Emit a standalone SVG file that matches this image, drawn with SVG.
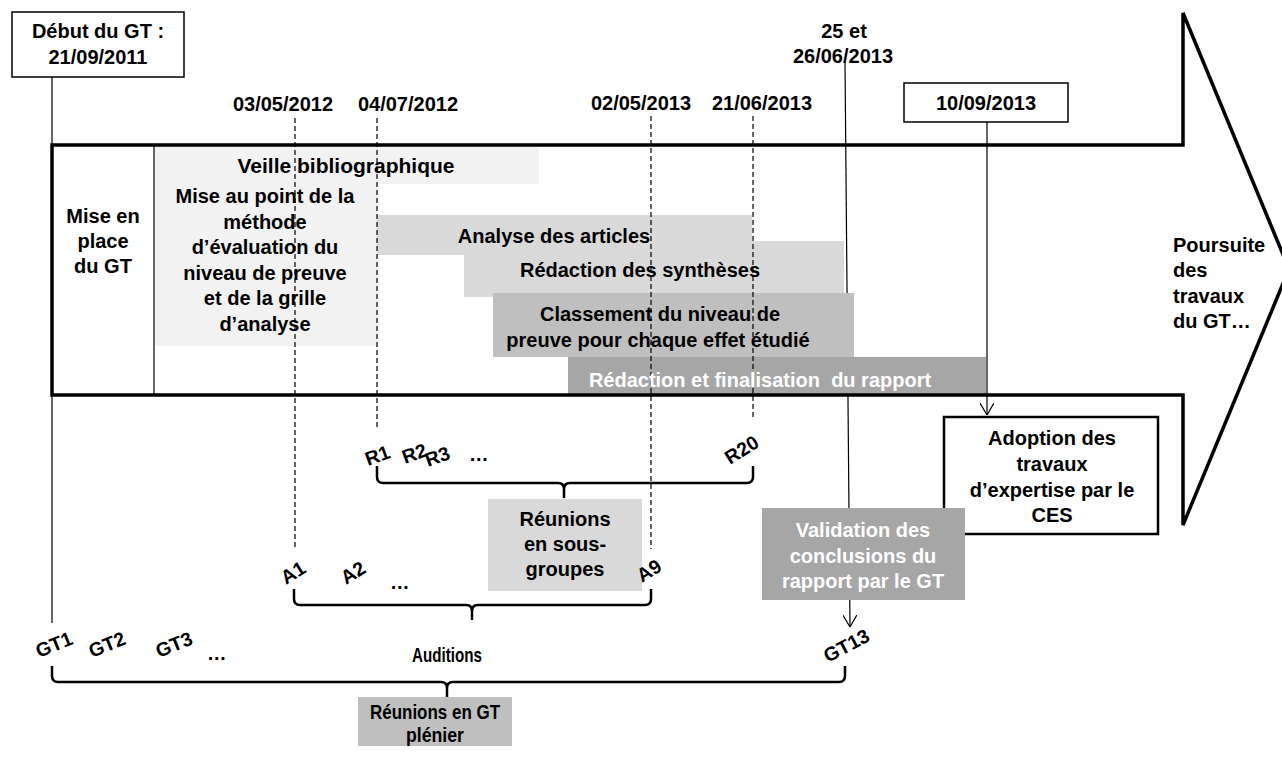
<svg xmlns="http://www.w3.org/2000/svg" width="1282" height="758" viewBox="0 0 1282 758">
<defs>
<style>
text{font-family:"Liberation Sans",Arial,sans-serif;font-weight:bold;font-size:20px;fill:#000}
.c{text-anchor:middle}
.w{fill:#fff}
.lbl{font-size:19.5px}
.big{font-size:21px}
.thin{stroke:#000;stroke-width:1.2;fill:none}
.dash{stroke:#000;stroke-width:1.2;stroke-dasharray:5 3;fill:none}
.brace{stroke:#000;stroke-width:2.5;fill:none}
.box{fill:#fff;stroke:#000;stroke-width:1.5}
.g1{fill:#f2f2f2}.g2{fill:#d9d9d9}.g3{fill:#bfbfbf}.g4{fill:#a6a6a6}
</style>
<marker id="ah" viewBox="0 0 12 14" refX="12" refY="7" markerWidth="12" markerHeight="14" markerUnits="userSpaceOnUse" orient="auto"><path d="M0,0 L12,7 L0,14" fill="none" stroke="#000" stroke-width="1.2"/></marker>
</defs>
<rect width="1282" height="758" fill="#fff"/>

<g id="connectors">
<line class="thin" x1="52" y1="77" x2="52" y2="623"/>
<line class="thin" x1="845" y1="62" x2="850" y2="627" marker-end="url(#ah)"/>
<line class="thin" x1="987" y1="122" x2="987" y2="415" marker-end="url(#ah)"/>
</g>

<g id="bars">
<rect class="g1" x="155" y="146" width="384" height="38"/>
<rect class="g1" x="155" y="184" width="222" height="162"/>
<rect class="g2" x="377" y="215" width="375" height="40"/>
<rect class="g2" x="464" y="241" width="380" height="56"/>
<rect class="g3" x="493" y="293" width="361" height="64"/>
<rect class="g4" x="568" y="357" width="418" height="37"/>
</g>

<g id="dashes">
<line class="dash" x1="295" y1="118" x2="295" y2="549"/>
<line class="dash" x1="377" y1="118" x2="377" y2="428"/>
<line class="dash" x1="651" y1="116" x2="651" y2="549"/>
<line class="dash" x1="753" y1="116" x2="753" y2="418"/>
</g>

<g id="main-arrow">
<path d="M52,145 H1183 V13 L1289,269 L1183,525 V395 H52 Z" fill="none" stroke="#000" stroke-width="3.5" stroke-linejoin="miter"/>
<line x1="154" y1="145" x2="154" y2="395" stroke="#000" stroke-width="1.2"/>
</g>

<g id="braces">
<path class="brace" d="M377,466 V477 Q377,483 383,483 H558 Q564,483 564,489 V498 M564,489 Q564,483 570,483 H747 Q753,483 753,477 V466"/>
<path class="brace" d="M294,589 V599 Q294,605 300,605 H466 Q472,605 472,611 V620 M472,611 Q472,605 478,605 H645 Q651,605 651,599 V589"/>
<path class="brace" d="M52,666 V676 Q52,682 58,682 H441 Q447,682 447,688 V697 M447,688 Q447,682 453,682 H839 Q845,682 845,676 V666"/>
</g>

<g id="debut">
<rect class="box" x="12" y="12" width="172" height="65"/>
<text class="c" x="98" y="38">Début du GT :</text>
<text class="c" x="98" y="64">21/09/2011</text>
</g>

<g id="dates">
<text class="c" x="283" y="111">03/05/2012</text>
<text class="c" x="408" y="111">04/07/2012</text>
<text class="c" x="641" y="110">02/05/2013</text>
<text class="c" x="762" y="110">21/06/2013</text>
<text class="c" x="844" y="38">25 et</text>
<text class="c" x="843" y="63">26/06/2013</text>
</g>

<g id="d1009">
<rect class="box" x="904" y="83" width="164" height="39"/>
<text class="c" x="986" y="110">10/09/2013</text>
</g>

<g id="mise-en-place">
<text class="c" x="103" y="223">Mise en</text>
<text class="c" x="103" y="248">place</text>
<text class="c" x="103" y="273">du GT</text>
</g>

<g id="veille"><text class="c big" x="346" y="173">Veille bibliographique</text></g>
<g id="mise-au-point">
<text class="c" x="265" y="203">Mise au point de la</text>
<text class="c" x="265" y="228.5">méthode</text>
<text class="c" x="265" y="254">d’évaluation du</text>
<text class="c" x="265" y="279.5">niveau de preuve</text>
<text class="c" x="265" y="305">et de la grille</text>
<text class="c" x="265" y="331">d’analyse</text>
</g>
<g id="analyse"><text class="c" x="554" y="243">Analyse des articles</text></g>
<g id="syntheses"><text class="c" x="640" y="277">Rédaction des synthèses</text></g>
<g id="classement">
<text class="c" x="660" y="321">Classement du niveau de</text>
<text class="c" x="658" y="347">preuve pour chaque effet étudié</text>
</g>
<g id="redaction"><text class="c w" x="760" y="387" xml:space="preserve">Rédaction et finalisation  du rapport</text></g>

<g id="poursuite">
<text x="1173" y="252">Poursuite</text>
<text x="1173" y="277">des</text>
<text x="1173" y="303">travaux</text>
<text x="1173" y="328">du GT…</text>
</g>

<g id="adoption">
<rect x="944" y="417" width="214" height="117" fill="#fff" stroke="#000" stroke-width="2.5"/>
<text class="c" x="1052" y="445">Adoption des</text>
<text class="c" x="1052" y="471">travaux</text>
<text class="c" x="1052" y="497">d’expertise par le</text>
<text class="c" x="1052" y="522">CES</text>
</g>

<g id="validation">
<rect class="g4" x="762" y="508" width="203" height="92"/>
<text class="c w" x="863" y="537">Validation des</text>
<text class="c w" x="863" y="563">conclusions du</text>
<text class="c w" x="863" y="588">rapport par le GT</text>
</g>

<g id="sous-groupes">
<rect class="g2" x="488" y="499" width="154" height="92"/>
<text class="c" x="565" y="526">Réunions</text>
<text class="c" x="565" y="551">en sous-</text>
<text class="c" x="565" y="576">groupes</text>
</g>

<g id="pleniere">
<rect class="g3" x="358" y="697" width="154" height="49"/>
<text class="c big" x="435" y="719" textLength="130" lengthAdjust="spacingAndGlyphs">Réunions en GT</text>
<text class="c big" x="435" y="742" textLength="58" lengthAdjust="spacingAndGlyphs">plénier</text>
</g>

<g id="labels">
<text class="lbl" transform="translate(368,466) rotate(-20)">R1</text>
<text class="lbl" transform="translate(405,464) rotate(-20)">R2</text>
<text class="lbl" transform="translate(428,467) rotate(-20)">R3</text>
<text class="lbl" x="469" y="461">…</text>
<text class="lbl" transform="translate(730,465) rotate(-32)">R20</text>
<text class="lbl" transform="translate(286,585) rotate(-32)">A1</text>
<text class="lbl" transform="translate(346,585) rotate(-32)">A2</text>
<text class="lbl" x="390" y="589">…</text>
<text class="lbl" transform="translate(642,583) rotate(-32)">A9</text>
<text class="lbl" transform="translate(39,658) rotate(-22)">GT1</text>
<text class="lbl" transform="translate(92,658) rotate(-22)">GT2</text>
<text class="lbl" transform="translate(159,658) rotate(-22)">GT3</text>
<text class="lbl" x="207" y="660">…</text>
<text class="c big" x="447" y="662" textLength="70" lengthAdjust="spacingAndGlyphs">Auditions</text>
<text class="lbl" transform="translate(828,663) rotate(-28)">GT13</text>
</g>
</svg>
